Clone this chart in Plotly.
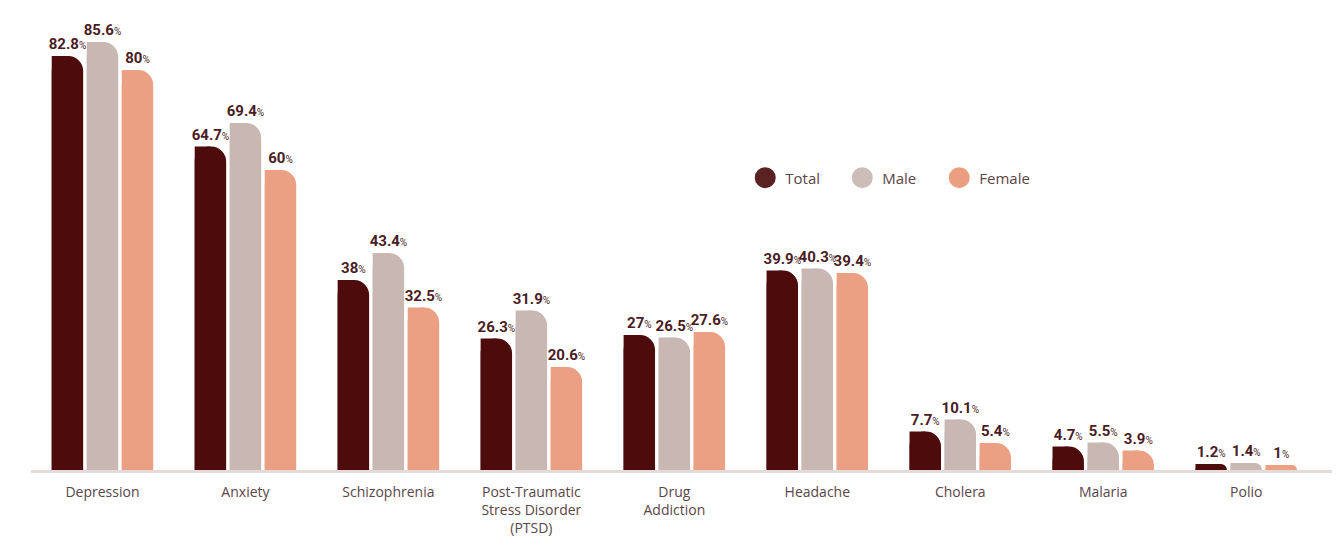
import plotly.graph_objects as go

categories = ["Depression", "Anxiety", "Schizophrenia",
              "Post-Traumatic<br>Stress Disorder<br>(PTSD)", "Drug<br>Addiction",
              "Headache", "Cholera", "Malaria", "Polio"]
total = [82.8, 64.7, 38, 26.3, 27, 39.9, 7.7, 4.7, 1.2]
male = [85.6, 69.4, 43.4, 31.9, 26.5, 40.3, 10.1, 5.5, 1.4]
female = [80, 60, 32.5, 20.6, 27.6, 39.4, 5.4, 3.9, 1]

series = [("Total", total, "#4d0b0b", -0.355),
          ("Male", male, "#c8b7b3", -0.11),
          ("Female", female, "#eba083", 0.135)]

BW = 0.22
LABEL_COLOR = "#4a1c24"
TEXT_COLOR = "#5a4548"

fig = go.Figure()
for name, vals, color, off in series:
    # full bar with rounded corners (only the right one stays visible)
    fig.add_trace(go.Bar(
        x=categories, y=vals, name=name, showlegend=False,
        offset=off, width=BW,
        marker=dict(color=color, cornerradius=16, line=dict(width=0)),
        texttemplate="<b>%{y}</b><span style='font-size:10px'>%</span>",
        textposition="outside", cliponaxis=False, constraintext="none",
        textfont=dict(family="Roboto", size=15, color=LABEL_COLOR),
    ))
    # left half, square, keeps the top-left corner sharp
    fig.add_trace(go.Bar(
        x=categories, y=vals, name=name, showlegend=False,
        offset=off, width=BW / 2,
        marker=dict(color=color, cornerradius=0, line=dict(width=0)),
        hoverinfo="skip",
    ))

legend_colors = {"Total": "#5a2222", "Male": "#cdbdb9", "Female": "#ec9f80"}
for name, _, _, _ in series:
    fig.add_trace(go.Scatter(
        x=[None], y=[None], mode="markers", name=name,
        marker=dict(symbol="circle", size=16, color=legend_colors[name],
                    line=dict(color=legend_colors[name], width=5)),
    ))

fig.update_layout(
    width=1324, height=530,
    margin=dict(l=23, r=0, t=12, b=68, autoexpand=False),
    barmode="overlay",
    plot_bgcolor="white", paper_bgcolor="white",
    font=dict(family="Open Sans", color=TEXT_COLOR, size=14),
    legend=dict(orientation="h", x=0.549, y=0.649, xanchor="left", yanchor="middle",
                font=dict(family="Open Sans", size=15, color=TEXT_COLOR),
                entrywidth=52,
                bgcolor="rgba(0,0,0,0)"),
    xaxis=dict(type="category", range=[-0.5, 8.6], showgrid=False,
               showline=True, linecolor="#e4dad8", linewidth=3,
               ticks="", ticklabelstandoff=7, zeroline=False,
               tickfont=dict(family="Open Sans", size=14, color=TEXT_COLOR)),
    yaxis=dict(range=[0, 90], visible=False, showgrid=False, zeroline=False),
)

fig.write_html("out.html")
